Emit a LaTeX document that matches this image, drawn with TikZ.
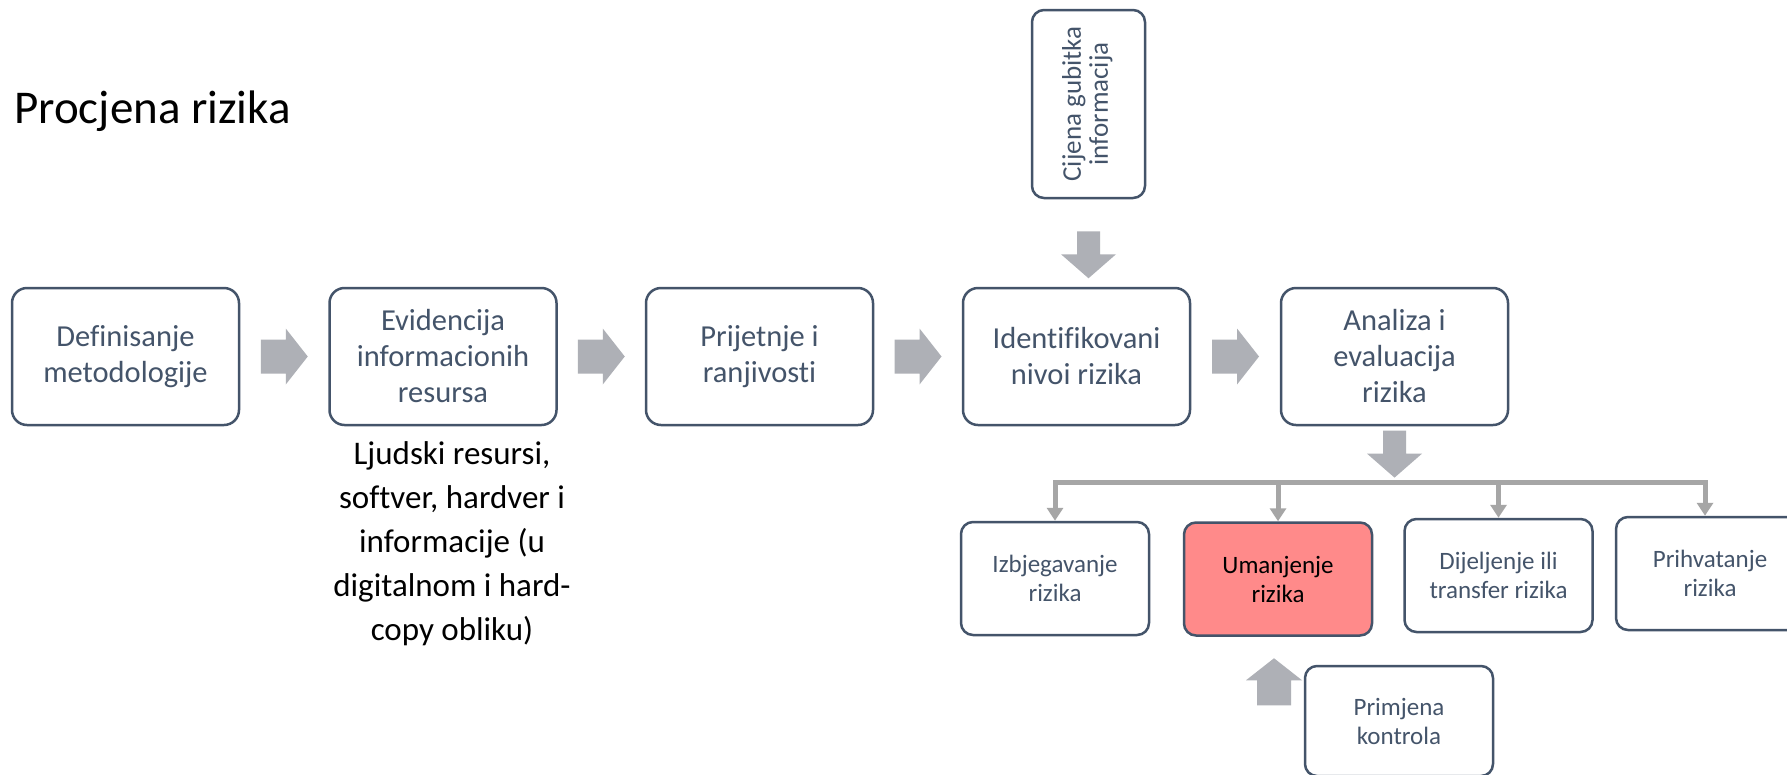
\documentclass[tikz,border=0pt]{standalone}
\usepackage{fontspec}
\setmainfont{Carlito}[Ligatures=NoCommon]
\usepackage{graphicx}
\usetikzlibrary{calc,arrows.meta}
\definecolor{boxline}{HTML}{44546A}
\definecolor{arrowgray}{HTML}{AEB0B6}
\definecolor{conngray}{HTML}{A6A6A6}
\definecolor{pinkfill}{HTML}{FF8A8A}
\tikzset{
 mainbox/.style={draw=boxline, line width=2.5pt, rounded corners=15pt, fill=white,
   minimum width=227pt, minimum height=137pt, inner sep=0pt, align=center,
   text=boxline, font=\fontsize{30.5}{36}\selectfont},
 smallbox/.style={draw=boxline, line width=2.5pt, rounded corners=12pt, fill=white,
   minimum width=188pt, minimum height=113pt, inner sep=0pt, align=center,
   text=boxline, font=\fontsize{25}{29}\selectfont},
 conn/.style={draw=conngray, line width=5pt, -{Triangle[width=16pt,length=13pt]}},
 widearrow/.pic={\fill[arrowgray] (-23.5,-17)--(1.5,-17)--(1.5,-28)--(23.5,0)--(1.5,28)--(1.5,17)--(-23.5,17)--cycle;},
 narrowarrow/.pic={\fill[arrowgray] (-23.5,-11.5)--(-0.5,-11.5)--(-0.5,-27.5)--(23.5,0)--(-0.5,27.5)--(-0.5,11.5)--(-23.5,11.5)--cycle;},
}
\begin{document}
\begin{tikzpicture}[x=1pt,y=-1pt]
\useasboundingbox (0,0) rectangle (1787,774);
\fill[white] (0,0) rectangle (1787,774);
\clip (0,0) rectangle (1787,774);

\node[anchor=base west, inner sep=0pt, font=\fontsize{47}{56}\selectfont] (title) at (14,123) {Procjena rizika};

\node[mainbox] (b1) at (125.5,356.5) {Definisanje\\metodologije};
\node[mainbox] (b2) at (443,356.5) {Evidencija\\informacionih\\resursa};
\node[mainbox] (b3) at (759.5,356.5) {Prijetnje i\\ranjivosti};
\node[mainbox] (b4) at (1076.5,356.5) {Identifikovani\\nivoi rizika};
\node[mainbox] (b5) at (1394.5,356.5) {Analiza i\\evaluacija\\rizika};

\node[smallbox, minimum width=113pt, minimum height=188pt] (cij) at (1088.5,104)
  {\rotatebox{90}{\fontsize{27}{29}\selectfont\begin{tabular}{@{}c@{}}Cijena gubitka\\[-2pt]informacija\end{tabular}}};

\node[anchor=north, inner sep=0pt, align=center, font=\fontsize{33}{44}\selectfont] (note) at (452,441)
  {Ljudski resursi,\\softver, hardver i\\informacije (u\\digitalnom i hard-\\copy obliku)};

\node[smallbox] (izb) at (1055,578.5) {Izbjegavanje\\rizika};
\node[smallbox, fill=pinkfill, text=black] (uman) at (1278,579) {Umanjenje\\rizika};
\node[smallbox] (dij) at (1498.5,575.5) {Dijeljenje ili\\transfer rizika};
\node[smallbox] (pri) at (1710,573.5) {Prihvatanje\\rizika};
\node[smallbox, minimum height=110pt] (prim) at (1399,721) {Primjena\\kontrola};

% block arrows
\pic at ($(b1.east)!0.5!(b2.west)$) {widearrow};
\pic at ($(b2.east)!0.5!(b3.west)$) {widearrow};
\pic at ($(b3.east)!0.5!(b4.west)$) {widearrow};
\pic at ($(b4.east)!0.5!(b5.west)$) {widearrow};
\pic[rotate=-90] at ($(cij.south|-b4.north)+(0,-32)$) {narrowarrow};
\coordinate (bar) at (1394.5,482);
\pic[rotate=-90] at ($(b5.south)!0.5!(bar)$) {narrowarrow};
\pic[rotate=90] at ($(uman.south)+(-4,45)$) {widearrow};

% branch connectors
\draw[conn] (bar) -| (izb.north);
\draw[conn] (bar) -| (uman.north);
\draw[conn] (bar) -| (dij.north);
\draw[conn] (bar) -| ([xshift=-5pt]pri.north);
\end{tikzpicture}
\end{document}
